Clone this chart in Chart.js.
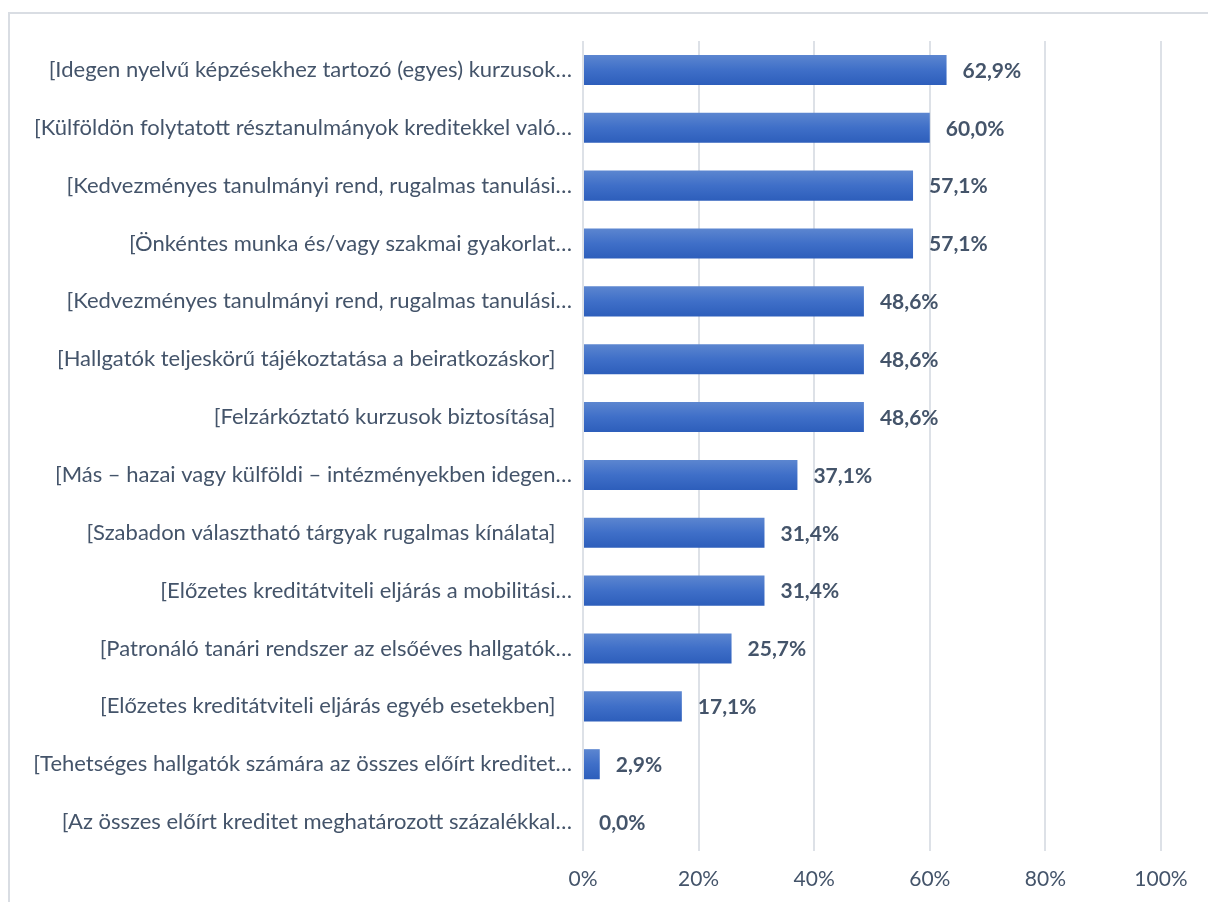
<!DOCTYPE html>
<html><head><meta charset="utf-8">
<script src="https://cdn.jsdelivr.net/npm/chart.js@4.4.1/dist/chart.umd.min.js"></script>
<style>html,body{margin:0;padding:0;background:#fff;}#wrap{width:1208px;height:902px;position:relative;overflow:hidden}</style>
</head><body><div id="wrap"><canvas id="c" width="1208" height="902"></canvas></div>
<script>
const categories = [
  "[Idegen nyelvű képzésekhez tartozó (egyes) kurzusok…",
  "[Külföldön folytatott résztanulmányok kreditekkel való…",
  "[Kedvezményes tanulmányi rend, rugalmas tanulási…",
  "[Önkéntes munka és/vagy szakmai gyakorlat…",
  "[Kedvezményes tanulmányi rend, rugalmas tanulási…",
  "[Hallgatók teljeskörű tájékoztatása a beiratkozáskor]",
  "[Felzárkóztató kurzusok biztosítása]",
  "[Más – hazai vagy külföldi – intézményekben idegen…",
  "[Szabadon választható tárgyak rugalmas kínálata]",
  "[Előzetes kreditátviteli eljárás a mobilitási…",
  "[Patronáló tanári rendszer az elsőéves hallgatók…",
  "[Előzetes kreditátviteli eljárás egyéb esetekben]",
  "[Tehetséges hallgatók számára az összes előírt kreditet…",
  "[Az összes előírt kreditet meghatározott százalékkal…"
];
const values = [62.9, 60.0, 57.1, 57.1, 48.6, 48.6, 48.6, 37.1, 31.4, 31.4, 25.7, 17.1, 2.9, 0.0];
const xTickValues = [0, 20, 40, 60, 80, 100];

const TEXT = '#44546A';
const FONT = 'Lato, "Noto Sans", sans-serif';

const frame = {
  id: 'frame',
  beforeDraw(chart) {
    const ctx = chart.ctx;
    ctx.save();
    ctx.strokeStyle = '#D9DDE3';
    ctx.lineWidth = 2;
    ctx.strokeRect(9, 13, 1400, 1000);
    ctx.restore();
  }
};

const gradientBars = {
  id: 'gradientBars',
  beforeDatasetsDraw(chart) {
    const ctx = chart.ctx;
    chart.getDatasetMeta(0).data.forEach(el => {
      const h = el.height;
      const g = ctx.createLinearGradient(0, el.y - h / 2, 0, el.y + h / 2);
      g.addColorStop(0, '#5C86D0');
      g.addColorStop(0.5, '#3F6FC8');
      g.addColorStop(1, '#2D5EBB');
      el.options.backgroundColor = g;
    });
  }
};

const valueLabels = {
  id: 'valueLabels',
  afterDatasetsDraw(chart) {
    const ctx = chart.ctx;
    ctx.save();
    ctx.font = 'bold 21px ' + FONT;
    ctx.fillStyle = TEXT;
    ctx.textAlign = 'left';
    ctx.textBaseline = 'middle';
    chart.getDatasetMeta(0).data.forEach((el, i) => {
      const t = values[i].toFixed(1).replace('.', ',') + '%';
      ctx.fillText(t, el.x + 16, el.y + 1);
    });
    ctx.restore();
  }
};

new Chart(document.getElementById('c'), {
  type: 'bar',
  data: {
    labels: categories,
    datasets: [{
      data: values,
      backgroundColor: () => '#4472C4',
      borderWidth: 0,
      barPercentage: 0.52,
      categoryPercentage: 1.0
    }]
  },
  options: {
    indexAxis: 'y',
    responsive: false,
    animation: false,
    layout: { padding: { top: 41, right: 47, bottom: 0, left: 0 } },
    plugins: { legend: { display: false }, tooltip: { enabled: false }, title: { display: false } },
    scales: {
      x: {
        min: 0, max: 100,
        afterFit(s) { s.height = 51; },
        afterBuildTicks(s) { s.ticks = xTickValues.map(v => ({ value: v })); },
        grid: { color: '#DDE1E7', lineWidth: 2, drawTicks: false },
        border: { display: false },
        ticks: {
          padding: 16,
          color: TEXT,
          font: { family: FONT, size: 21 },
          callback: v => v + '%'
        }
      },
      y: {
        afterFit(s) { s.width = 583; },
        grid: { display: false },
        border: { display: false },
        ticks: {
          autoSkip: false,
          padding: 3,
          color: TEXT,
          font: { family: FONT, size: 22 },
          callback(v, i) { const l = categories[i]; return l.endsWith('…') ? l : l + '\u2003'; }
        }
      }
    }
  },
  plugins: [frame, gradientBars, valueLabels]
});
</script>
</body></html>
